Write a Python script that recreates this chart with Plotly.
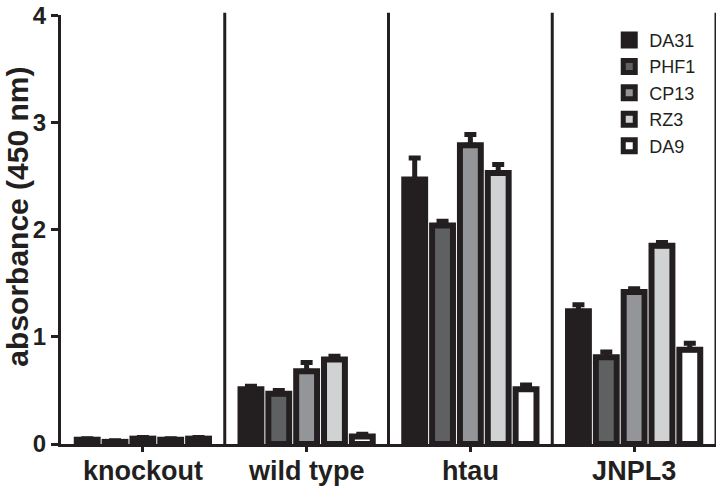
import plotly.graph_objects as go

groups = ["knockout", "wild type", "htau", "JNPL3"]
antibodies = ["DA31", "PHF1", "CP13", "RZ3", "DA9"]
values = {
    "DA31": [0.04, 0.51, 2.47, 1.24],
    "PHF1": [0.02, 0.47, 2.04, 0.81],
    "CP13": [0.05, 0.68, 2.79, 1.42],
    "RZ3":  [0.04, 0.79, 2.53, 1.85],
    "DA9":  [0.05, 0.07, 0.51, 0.88],
}
errors = {
    "DA31": [0.01, 0.03, 0.20, 0.06],
    "PHF1": [0.01, 0.03, 0.04, 0.05],
    "CP13": [0.01, 0.08, 0.10, 0.03],
    "RZ3":  [0.01, 0.03, 0.08, 0.03],
    "DA9":  [0.01, 0.02, 0.04, 0.06],
}
fills = {"DA31": "#231f20", "PHF1": "#5f6062", "CP13": "#939598",
         "RZ3": "#d1d2d4", "DA9": "#ffffff"}
y_ticks = [0, 1, 2, 3, 4]
y_title = "absorbance (450 nm)"

INK = "#231f20"
FONT = "Liberation Sans, Arial, sans-serif"

fig = go.Figure()
for i, ab in enumerate(antibodies):
    fig.add_trace(go.Bar(
        name=ab, x=groups, y=values[ab],
        marker=dict(color=fills[ab], line=dict(color=INK, width=6)),
        error_y=dict(type="data", symmetric=False, array=errors[ab],
                     arrayminus=[0] * len(groups), color=INK,
                     thickness=5, width=6),
        legendgroup=ab,
    ))

for xs in [0.5, 1.5, 2.5, 3.5]:
    fig.add_shape(type="line", xref="x", yref="paper", x0=xs, x1=xs,
                  y0=0, y1=1.005, line=dict(color=INK, width=3))

fig.add_annotation(text=y_title, textangle=-90, xref="paper", yref="paper",
                   x=0, y=0.53, xshift=-43, xanchor="center", yanchor="middle",
                   showarrow=False,
                   font=dict(size=30, family=FONT, weight="bold", color=INK))

fig.update_layout(
    width=718, height=488,
    margin=dict(l=61, r=2, t=10, b=41),
    paper_bgcolor="white", plot_bgcolor="white",
    barmode="group", bargap=0.15, bargroupgap=0.25,
    font=dict(family=FONT, color=INK),
    showlegend=True,
    legend=dict(x=0.837, y=0.984, xanchor="left", yanchor="top",
                bgcolor="rgba(0,0,0,0)", font=dict(size=18, family=FONT),
                traceorder="grouped", tracegroupgap=0),
    xaxis=dict(range=[-0.5, 3.5], showline=True, linewidth=3, linecolor=INK,
               ticks="outside", ticklen=5, tickwidth=3, tickcolor=INK,
               ticklabelstandoff=-4,
               tickfont=dict(size=27, family=FONT, weight="bold"),
               showgrid=False, zeroline=False),
    yaxis=dict(range=[0, 4.005], tickvals=y_ticks, showline=True, linewidth=3,
               linecolor=INK, ticks="outside", ticklen=7, tickwidth=3,
               tickcolor=INK, showgrid=False, zeroline=False,
               ticklabeloverflow="allow",
               tickfont=dict(size=24, family=FONT, weight="bold")),
)

fig.write_html("out.html", config={"displayModeBar": False},
               post_script="document.body.style.margin='0';document.body.style.overflow='hidden';")
